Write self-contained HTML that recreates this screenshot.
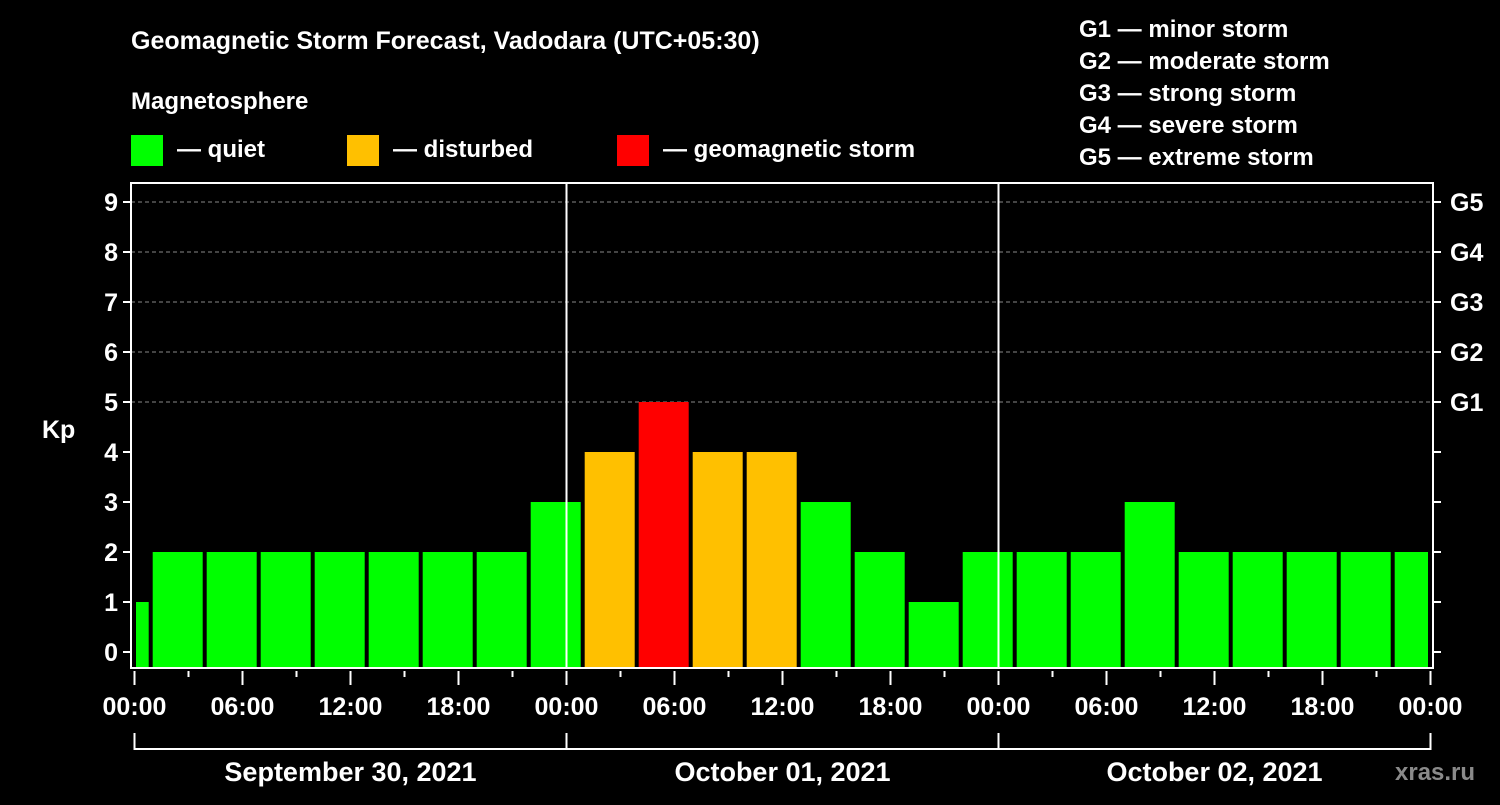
<!DOCTYPE html>
<html><head><meta charset="utf-8"><style>
html,body{margin:0;padding:0;background:#000;}
svg text{font-family:"Liberation Sans",sans-serif;font-weight:bold;fill:#fff;}
</style></head><body>
<svg id="chart" width="1500" height="800" xmlns="http://www.w3.org/2000/svg">
<rect width="1500" height="800" fill="#000"/>
<text x="131" y="49" font-size="25">Geomagnetic Storm Forecast, Vadodara (UTC+05:30)</text>
<text x="131" y="109" font-size="24">Magnetosphere</text>
<g><rect x="131" y="135" width="32" height="31" fill="#00ff00"/><text x="177" y="157" font-size="24">— quiet</text></g>
<g><rect x="347" y="135" width="32" height="31" fill="#ffc000"/><text x="393" y="157" font-size="24">— disturbed</text></g>
<g><rect x="617" y="135" width="32" height="31" fill="#ff0000"/><text x="663" y="157" font-size="24">— geomagnetic storm</text></g>
<g font-size="24">
<text x="1079" y="37">G1 — minor storm</text>
<text x="1079" y="69">G2 — moderate storm</text>
<text x="1079" y="101">G3 — strong storm</text>
<text x="1079" y="133">G4 — severe storm</text>
<text x="1079" y="165">G5 — extreme storm</text>
</g>
<text x="42" y="438" font-size="25">Kp</text>
<text x="1395" y="780" font-size="24" fill="#888" style="fill:#8a8a8a">xras.ru</text>
<g id="plot"></g>
</svg>
<script>
const kpValues=[1,2,2,2,2,2,2,2,3,4,5,4,4,3,2,1,2,2,2,3,2,2,2,2,2];
const binStartHours=[-2.1]; // first bin begins before chart start (UTC offset)
const yTicks=[0,1,2,3,4,5,6,7,8,9];
const gLabels=['G1','G2','G3','G4','G5'];
const xTickLabels=['00:00','06:00','12:00','18:00','00:00','06:00','12:00','18:00','00:00','06:00','12:00','18:00','00:00'];
const dayLabels=['September 30, 2021','October 01, 2021','October 02, 2021'];

const NS='http://www.w3.org/2000/svg';
const g=document.getElementById('plot');
const L=131,R=1433,T=183,B=668;
const xs=h=>134.5+h*18;
const ys=k=>652-k*50;
function mk(t,a){const e=document.createElementNS(NS,t);for(const k in a)e.setAttribute(k,a[k]);g.appendChild(e);return e;}
function col(k){return k>=5?'#ff0000':k>=4?'#ffc000':'#00ff00';}
// grid
for(let k=5;k<=9;k++){const e=mk('line',{x1:L,x2:R,y1:ys(k),y2:ys(k),stroke:'#888','stroke-dasharray':'4,3','stroke-width':1});

}
// bars
kpValues.forEach((v,i)=>{
 const h0=binStartHours[0]+i*3,h1=h0+3;
 const x0=Math.max(xs(h0)+2,L+5),x1=Math.min(xs(h1)-2,R-5);
 const e=mk('rect',{x:x0,y:ys(v),width:x1-x0,height:B-ys(v),fill:col(v)});
 
 
});
// frame
const fr=mk('path',{d:`M${L} ${T}H${R}V${B}H${L}Z`,fill:'none',stroke:'#fff','stroke-width':2});


[24,48].forEach(h=>{const e=mk('line',{x1:xs(h),x2:xs(h),y1:T,y2:B,stroke:'#fff','stroke-width':2});

});
// y ticks
yTicks.forEach(k=>{
 const e=mk('line',{x1:L-8,x2:L,y1:ys(k),y2:ys(k),stroke:'#fff','stroke-width':2});
 
 
 const e2=mk('line',{x1:R,x2:R+8,y1:ys(k),y2:ys(k),stroke:'#fff','stroke-width':2});
 
 
 const t=mk('text',{x:118,y:ys(k)+9,'font-size':25,'text-anchor':'end'});t.textContent=k;
 
 
});
gLabels.forEach((s,i)=>{const t=mk('text',{x:1450,y:ys(5+i)+9,'font-size':25});t.textContent=s;
 
 });
// x ticks
for(let h=0;h<=72;h+=3){const long=h%6===0;const e=mk('line',{x1:xs(h),x2:xs(h),y1:B+3,y2:B+(long?17:9),stroke:'#fff','stroke-width':2});
 
 }
xTickLabels.forEach((s,i)=>{const t=mk('text',{x:xs(i*6),y:715,'font-size':25,'text-anchor':'middle'});t.textContent=s;
 
 });
// date bracket
const br=mk('line',{x1:xs(0),x2:xs(72),y1:749,y2:749,stroke:'#fff','stroke-width':2});


[0,24,48,72].forEach(h=>{const e=mk('line',{x1:xs(h),x2:xs(h),y1:733,y2:750,stroke:'#fff','stroke-width':2});
 
 });
dayLabels.forEach((s,i)=>{const t=mk('text',{x:xs(i*24+12),y:781,'font-size':27,'text-anchor':'middle'});t.textContent=s;
 
 });
</script>
</body></html>
